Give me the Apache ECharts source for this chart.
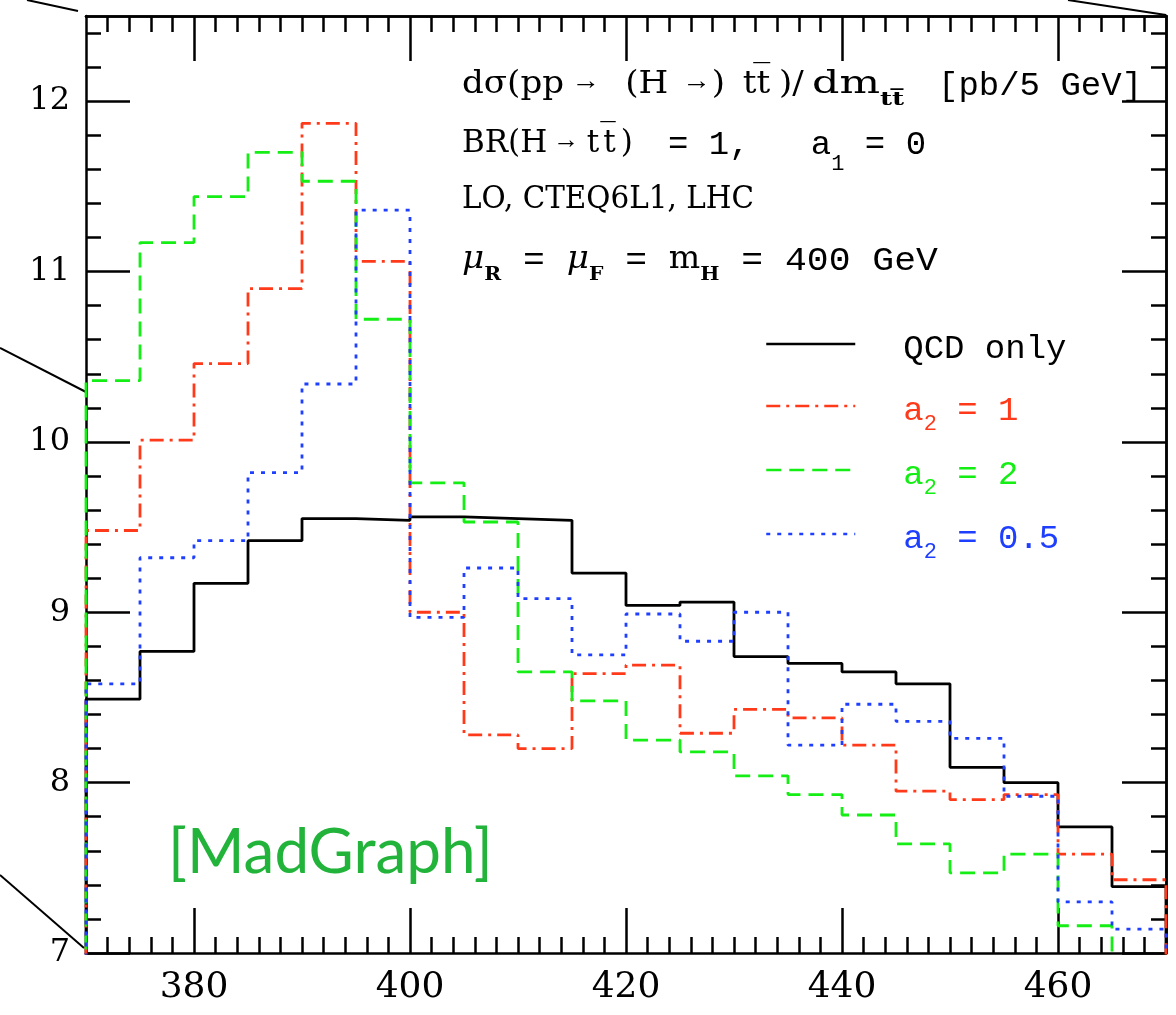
<!DOCTYPE html>
<html>
<head>
<meta charset="utf-8">
<script src="https://cdn.jsdelivr.net/npm/echarts@6/dist/echarts.min.js"></script>
<style>
  html, body { margin: 0; padding: 0; background: #fff; }
  #chart { width: 1176px; height: 1015px; }
</style>
</head>
<body>
<div id="chart"></div>
<script>
  // bin lower edges (m_tt in GeV), last bin ends at 470
  const binStart = [370, 375, 380, 385, 390, 395, 400, 405, 410, 415,
                    420, 425, 430, 435, 440, 445, 450, 455, 460, 465]
  const binEnd = 470

  // dsigma/dm_tt [pb/5 GeV]
  const qcdOnly = [8.49, 8.77, 9.17, 9.42, 9.55, 9.54, 9.56, 9.55, 9.54, 9.23,
                   9.04, 9.06, 8.74, 8.70, 8.65, 8.58, 8.09, 8.00, 7.74, 7.39]
  const a2is1 = [9.48, 10.01, 10.46, 10.90, 11.87, 11.06, 9.00, 8.28, 8.20, 8.64,
                 8.69, 8.29, 8.43, 8.38, 8.22, 7.95, 7.90, 7.93, 7.58, 7.43]
  const a2is2 = [10.36, 11.17, 11.44, 11.70, 11.53, 10.72, 9.76, 9.53, 8.65, 8.48,
                 8.25, 8.18, 8.04, 7.93, 7.81, 7.64, 7.47, 7.58, 7.16, 6.90]
  const a2is05 = [8.58, 9.32, 9.42, 9.82, 10.34, 11.36, 8.97, 9.26, 9.08, 8.75,
                  8.99, 8.83, 9.00, 8.22, 8.46, 8.36, 8.26, 7.92, 7.30, 7.14]

  const xTickLabels = [380, 400, 420, 440, 460]
  const yTickLabels = [7, 8, 9, 10, 11, 12]

  const xMin = 370, xMax = 470, yMin = 7, yMax = 12.5

  // minor ticks: every 2 GeV on x, every 0.2 on y
  const xMinor = []
  for (let v = 372; v < xMax; v += 2) xMinor.push(v)
  const yMinor = []
  for (let k = 36; k < 63; k++) yMinor.push(+(k * 0.2).toFixed(1))

  // histogram outline, closed down to zero at both ends
  const histPoints = (vals) => {
    const pts = [[binStart[0], 0]]
    vals.forEach((v, i) => pts.push([binStart[i], v]))
    pts.push([binEnd, vals[vals.length - 1]])
    pts.push([binEnd, 0])
    return pts
  }

  const black = '#000'
  const red = '#ff3a1a'
  const green = '#14ee14'
  const blue = '#1f3fff'

  const serif = 'DejaVu Serif'
  const mono = 'Liberation Mono'

  const axisLine = { show: true, onZero: false, lineStyle: { color: black, width: 2.5 } }
  const tickStyle = { color: black, width: 2.5 }

  const xAxisOf = (position, ticks, len, labels) => ({
    type: 'value', position, min: xMin, max: xMax,
    axisLine: labels || position === 'top' ? axisLine : { show: false },
    axisTick: { show: true, inside: true, length: len, customValues: ticks, lineStyle: tickStyle },
    axisLabel: labels ? {
      show: true, customValues: labels, margin: 17,
      color: black, fontFamily: serif, fontSize: 36
    } : { show: false },
    splitLine: { show: false }
  })
  const yAxisOf = (position, ticks, len, labels) => ({
    type: 'value', position, min: yMin, max: yMax,
    axisLine: labels || position === 'right' ? axisLine : { show: false },
    axisTick: { show: true, inside: true, length: len, customValues: ticks, lineStyle: tickStyle },
    axisLabel: labels ? {
      show: true, customValues: labels, margin: 16,
      color: black, fontFamily: serif, fontSize: 32
    } : { show: false },
    splitLine: { show: false }
  })

  const stepSeries = (name, vals, color, type) => ({
    name, type: 'line', step: 'end', symbol: 'none', clip: true,
    data: histPoints(vals),
    lineStyle: { color, width: 2.8, type },
    itemStyle: { color },
    animation: false
  })

  // rich styles for annotation text
  const arrow = (l, r) => ({ fontFamily: mono, fontSize: 26, lineHeight: 30, padding: [0, r, 0, l], verticalAlign: 'top', fill: black })
  const serifPad = (l, r) => ({ fontFamily: serif, fontSize: 31, lineHeight: 30, padding: [0, r, 0, l], verticalAlign: 'top', fill: black })
  const rich = {
    s: { fontFamily: serif, fontSize: 31, lineHeight: 30, verticalAlign: 'top', fill: black },
    m: { fontFamily: mono, fontSize: 34, lineHeight: 30, verticalAlign: 'top', fill: black },
    ar1: arrow(12, 28),
    ar2: arrow(18, 6),
    ar3: arrow(11, 13),
    tt: serifPad(16, 8),
    t2: serifPad(4, 0),
    p2: serifPad(5, 0),
    i: { fontFamily: serif, fontSize: 32, fontStyle: 'italic', lineHeight: 30, verticalAlign: 'top', fill: black },
    sub: { fontFamily: serif, fontSize: 19, fontWeight: 'bold', lineHeight: 18, padding: [22, 0, 0, 0], verticalAlign: 'top', fill: black },
    msub: { fontFamily: mono, fontSize: 22, lineHeight: 18, padding: [25, 0, 0, 0], verticalAlign: 'top', fill: black }
  }
  const note = (x, y, text, scaleX) => ({
    type: 'text', x, y, scaleX: scaleX || 1, silent: true,
    style: { x: 0, y: 0, text, rich, fill: black, verticalAlign: 'top' }
  })
  const diag = (x1, y1, x2, y2) => ({
    type: 'line', silent: true,
    shape: { x1, y1, x2, y2 },
    style: { stroke: black, lineWidth: 2 }
  })

  const chart = echarts.init(document.getElementById('chart'))
  chart.setOption({
    animation: false,
    backgroundColor: '#fff',
    grid: { left: 86, right: 10, top: 16, bottom: 62, outerBoundsMode: 'none' },
    xAxis: [
      xAxisOf('bottom', xTickLabels, 45, xTickLabels),
      xAxisOf('bottom', xMinor, 16, null),
      xAxisOf('top', xTickLabels, 45, null),
      xAxisOf('top', xMinor, 16, null)
    ],
    yAxis: [
      yAxisOf('left', yTickLabels, 44, yTickLabels),
      yAxisOf('left', yMinor, 15, null),
      yAxisOf('right', yTickLabels, 44, null),
      yAxisOf('right', yMinor, 15, null)
    ],
    legend: {
      orient: 'vertical', left: 765, top: 327, padding: 0,
      itemWidth: 89, itemHeight: 14, itemGap: 18,
      lineStyle: { width: 2.5 },
      itemStyle: { opacity: 0 },
      textStyle: {
        fontFamily: mono, fontSize: 34, padding: [0, 0, 0, 43],
        rich: {
          t: { fontFamily: mono, fontSize: 34, lineHeight: 34, padding: [5, 0, 5, 0], verticalAlign: 'top' },
          d: { fontFamily: mono, fontSize: 22, lineHeight: 20, padding: [24, 0, 0, 0], verticalAlign: 'top' }
        }
      },
      data: [
        { name: 'QCD only', textStyle: { color: black } },
        { name: 'a2 = 1', textStyle: { color: red } },
        { name: 'a2 = 2', textStyle: { color: green } },
        { name: 'a2 = 0.5', textStyle: { color: blue } }
      ],
      formatter: (n) => n.startsWith('a2') ? '{t|a}{d|2}{t|' + n.slice(2) + '}' : '{t|' + n + '}'
    },
    series: [
      stepSeries('QCD only', qcdOnly, black, 'solid'),
      stepSeries('a2 = 1', a2is1, red, [14, 6, 3, 6]),
      stepSeries('a2 = 2', a2is2, green, [15, 8]),
      stepSeries('a2 = 0.5', a2is05, blue, [4, 7])
    ],
    graphic: [
      note(462, 69, '{s|dσ(pp}{ar1|→}{s|(H}{ar2|→}{s|)}{tt|tt̅}{s|)/}', 1.1),
      note(812, 69, '{s|dm}{sub|tt̅}', 1.38),
      note(938, 69, '{m|[pb/5 GeV]}'),
      note(462, 128, '{s|BR(H}{ar3|→}{s|t}{t2|t̅}{p2|)}'),
      note(668, 128, '{m|= 1,   a}{msub|1}{m| = 0}'),
      note(462, 184, '{s|LO, CTEQ6L1, LHC}', 0.95),
      note(462, 244, '{i|μ}{sub|R}{m| = }{i|μ}{sub|F}{m| = }{s|m}{sub|H}{m| = 400 GeV}', 1.07),
      {
        type: 'text', left: 168, top: 822, silent: true,
        style: { text: '[MadGraph]', fontFamily: 'Lato', fontSize: 62, fill: '#22b33a' }
      },
      // cropping remnants at the edges of the original figure
      diag(27, 0, 78, 11),
      diag(0, 348, 86, 392),
      diag(0, 875, 84, 948),
      diag(1068, 0, 1166, 15)
    ]
  })

  window.addEventListener('resize', () => {
    chart.resize()
  })
</script>
</body>
</html>
